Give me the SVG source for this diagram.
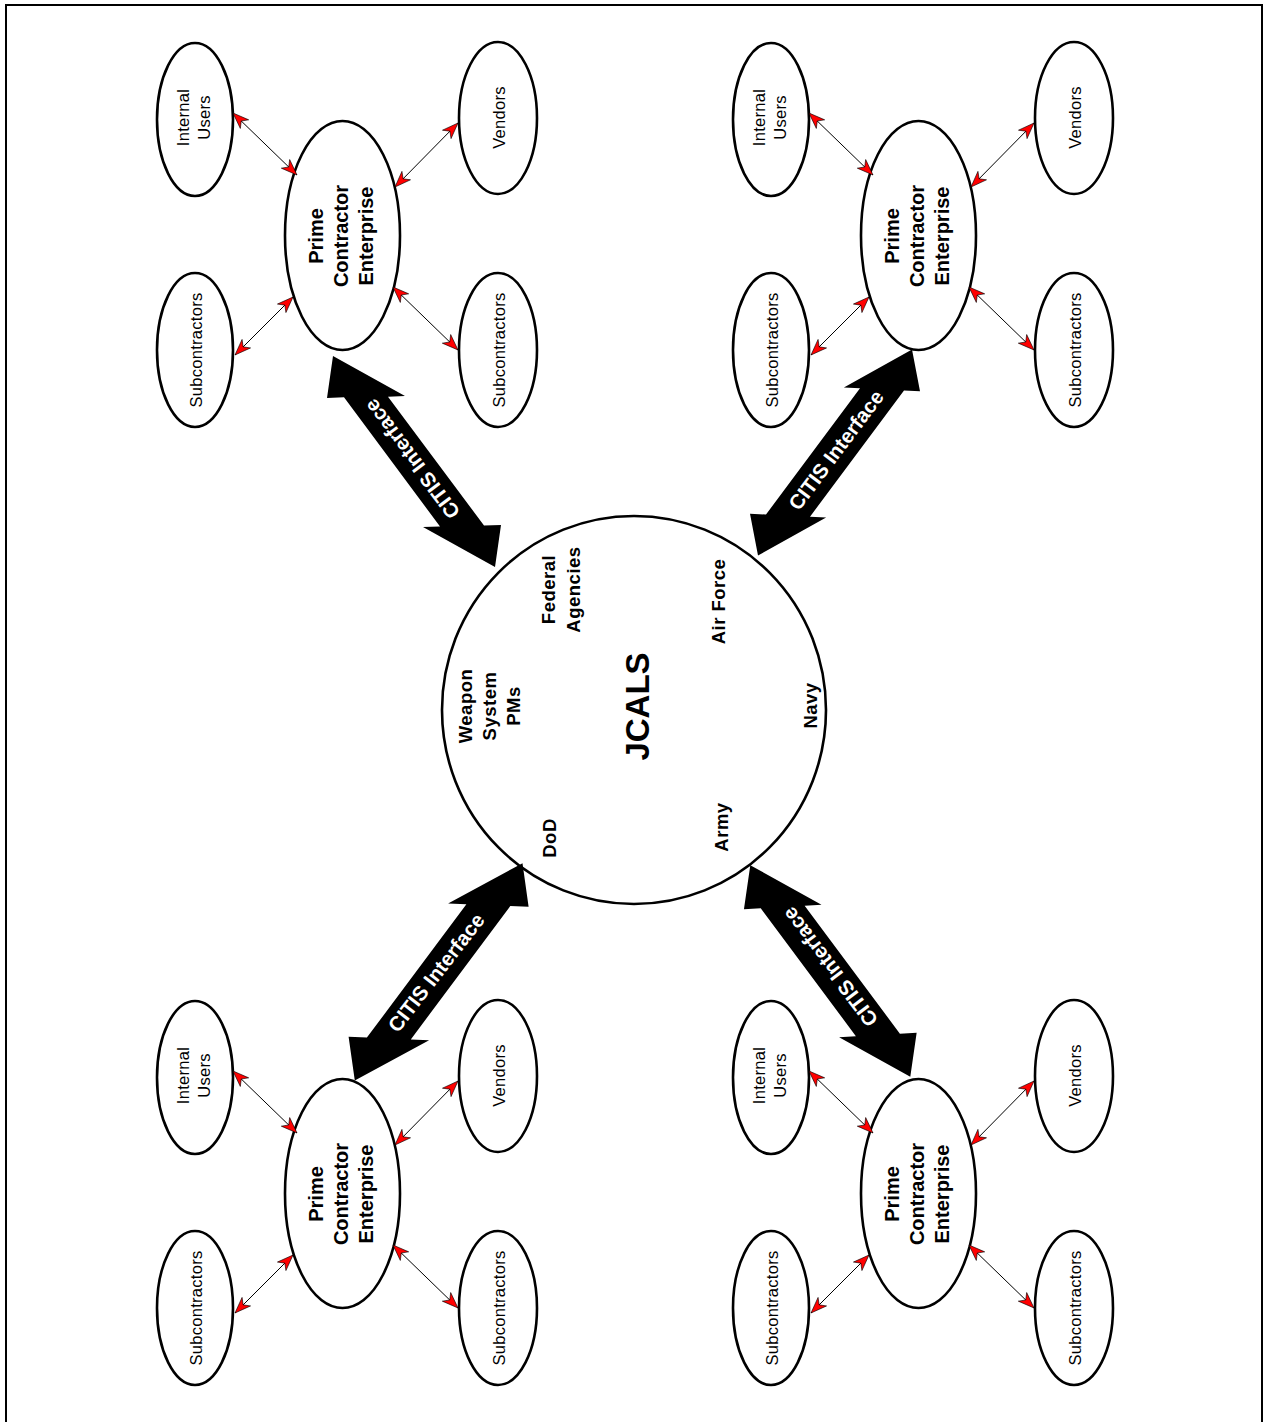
<svg xmlns="http://www.w3.org/2000/svg" width="1264" height="1422" viewBox="0 0 1264 1422">
<style>
.node{fill:#fff;stroke:#000;stroke-width:2.6}
.lbl{font-family:"Liberation Sans",Arial,sans-serif;font-size:16.5px;letter-spacing:0.3px;fill:#000;text-anchor:middle}
.prime{font-family:"Liberation Sans",Arial,sans-serif;font-size:20px;font-weight:bold;fill:#000;text-anchor:middle}
.org{font-family:"Liberation Sans",Arial,sans-serif;font-size:18.5px;font-weight:bold;letter-spacing:0.5px;fill:#000;text-anchor:middle}
.big{font-family:"Liberation Sans",Arial,sans-serif;font-size:33px;font-weight:bold;fill:#000;text-anchor:middle}
.link{stroke:#000;stroke-width:1;fill:none;marker-start:url(#ah);marker-end:url(#ah)}
.citis{fill:#000;stroke:none}
.ctxt{font-family:"Liberation Sans",Arial,sans-serif;font-size:20.5px;font-weight:bold;fill:#fff;text-anchor:middle}
</style>
<defs>
<marker id="ah" viewBox="-17 -7 18 14" markerWidth="18" markerHeight="14" refX="0" refY="0" orient="auto-start-reverse" markerUnits="userSpaceOnUse">
<path d="M0,0 L-16,-6 L-11.5,0 L-16,6 Z" fill="#ff0000" stroke="#000" stroke-width="0.6"/>
</marker>
<g id="cluster">
<g id="c-internal"><ellipse class="node" cx="195" cy="119.5" rx="38" ry="76.5"/><text class="lbl" transform="translate(195,117.5) rotate(-90)"><tspan x="0" y="-6.5">Internal</tspan><tspan x="0" y="15">Users</tspan></text></g>
<g id="c-vendors"><ellipse class="node" cx="498" cy="118" rx="39" ry="76"/><text class="lbl" transform="translate(498,117.5) rotate(-90)" y="7">Vendors</text></g>
<g id="c-subl"><ellipse class="node" cx="195" cy="350" rx="38" ry="77"/><text class="lbl" transform="translate(195,350) rotate(-90)" y="7">Subcontractors</text></g>
<g id="c-subr"><ellipse class="node" cx="498" cy="350" rx="39" ry="77"/><text class="lbl" transform="translate(498,350) rotate(-90)" y="6.5">Subcontractors</text></g>
<g id="c-prime"><ellipse class="node" cx="342.5" cy="235.5" rx="57.5" ry="114.5"/><text class="prime" transform="translate(342.5,236) rotate(-90)"><tspan x="0" y="-20">Prime</tspan><tspan x="0" y="5">Contractor</tspan><tspan x="0" y="30">Enterprise</tspan></text></g>
</g>
<g id="links">
<path class="link" d="M233,113 L297,175"/>
<path class="link" d="M458,123 L395,187"/>
<path class="link" d="M293,297 L235,355"/>
<path class="link" d="M393,287 L458,350"/>
</g>
</defs>
<path d="M6,1422 V5 H1262 V1422" fill="none" stroke="#000" stroke-width="2"/>
<g id="jcals">
<ellipse class="node" cx="634" cy="710" rx="192" ry="194"/>
<text class="big" transform="translate(648.5,706.5) rotate(-90)">JCALS</text>
<text class="org" transform="translate(555,589.5) rotate(-90)"><tspan x="0" y="0">Federal</tspan><tspan x="0" y="25">Agencies</tspan></text>
<text class="org" transform="translate(725,601.5) rotate(-90)">Air Force</text>
<text class="org" transform="translate(471.5,706) rotate(-90)"><tspan x="0" y="0">Weapon</tspan><tspan x="0" y="24.5">System</tspan><tspan x="0" y="48">PMs</tspan></text>
<text class="org" transform="translate(816.5,705.5) rotate(-90)">Navy</text>
<text class="org" transform="translate(727.5,827) rotate(-90)">Army</text>
<text class="org" transform="translate(556,838) rotate(-90)">DoD</text>
</g>
<g id="cluster-top-left"><use href="#cluster"/></g>
<g id="cluster-top-right" transform="translate(576,0)"><use href="#cluster"/></g>
<g id="cluster-bottom-left" transform="translate(0,958)"><use href="#cluster"/></g>
<g id="cluster-bottom-right" transform="translate(576,958)"><use href="#cluster"/></g>
<g id="connectors">
<use href="#links"/>
<use href="#links" transform="translate(576,0)"/>
<use href="#links" transform="translate(0,958)"/>
<use href="#links" transform="translate(576,958)"/>
<g id="citis-tl"><polygon class="citis" points="333,356 405,396 388,396.7 484,525.5 501,525 495,567 423,527 440,526.5 344,397.3 327,398"/><text class="ctxt" transform="translate(412,459) rotate(233)" dy="7.3">CITIS Interface</text></g>
<g id="citis-tr"><polygon class="citis" points="912,349.5 920,391.2 904,390.4 810,516.7 826.1,517.5 758,555.5 750,513.8 766,514.5 860,388.3 843.9,387.5"/><text class="ctxt" transform="translate(836,450) rotate(-53.2)" dy="7.3">CITIS Interface</text></g>
<g id="citis-bl"><polygon class="citis" points="522.5,863.2 528.6,906.8 510.3,906.05 410.8,1039.4 429.1,1040.2 354.8,1080.4 348.6,1036.8 366.9,1037.6 466.4,904.25 448.1,903.5"/><text class="ctxt" transform="translate(436,972.5) rotate(-52.3)" dy="7.3">CITIS Interface</text></g>
<g id="citis-br"><polygon class="citis" points="750.3,865.15 821.5,904.85 804.65,905.85 899.9,1033.65 916.65,1032.7 910.3,1076.85 839.1,1037.15 855.9,1036.15 760.75,908.35 743.95,909.3"/><text class="ctxt" transform="translate(830,967) rotate(232.9)" dy="7.3">CITIS Interface</text></g>
</g>
</svg>
